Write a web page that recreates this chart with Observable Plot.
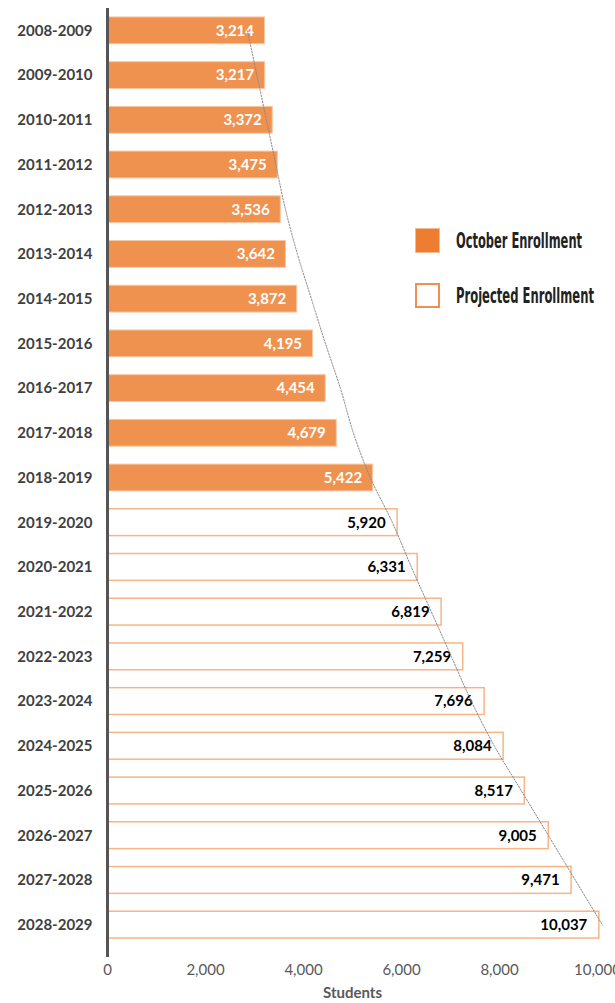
<!DOCTYPE html>
<html><head><meta charset="utf-8">
<script src="https://cdn.jsdelivr.net/npm/d3@7"></script>
<script src="https://cdn.jsdelivr.net/npm/@observablehq/plot@0.6"></script>
<style>
body{margin:0;background:#fff;}
#wrap{position:relative;width:615px;height:1003px;overflow:hidden;}
.lg{position:absolute;left:415px;height:26px;display:flex;align-items:center;}
.sw{width:25px;height:25px;box-sizing:border-box;flex:none;}
.lt{margin-left:16px;font-family:"Liberation Sans Narrow","DejaVu Sans Condensed",sans-serif;font-weight:bold;font-size:22px;color:#222;transform-origin:left center;white-space:nowrap;display:inline-block;}
</style></head><body>
<div id="wrap"><div id="chart"></div>
<div class="lg" style="top:227px"><div class="sw" style="background:#ED7D31;border:1px solid #F6B88E"></div><div class="lt" data-w="126">October Enrollment</div></div>
<div class="lg" style="top:282px"><div class="sw" style="background:#fff;border:2px solid #F0904F"></div><div class="lt" data-w="138">Projected Enrollment</div></div>
</div>
<script>
const periods = ["2008-2009","2009-2010","2010-2011","2011-2012","2012-2013","2013-2014","2014-2015","2015-2016","2016-2017","2017-2018","2018-2019","2019-2020","2020-2021","2021-2022","2022-2023","2023-2024","2024-2025","2025-2026","2026-2027","2027-2028","2028-2029"];
const enrollment = [3214,3217,3372,3475,3536,3642,3872,4195,4454,4679,5422,5920,6331,6819,7259,7696,8084,8517,9005,9471,10037];
const kinds = ["October","October","October","October","October","October","October","October","October","October","October","Projected","Projected","Projected","Projected","Projected","Projected","Projected","Projected","Projected","Projected"];
const trend = [2857,3051,3245,3437,3633,3878,4163,4449,4755,5020,5367,5816,6204,6612,7020,7429,7898,8449,9000,9551,10102];
const xTicks = [0,2000,4000,6000,8000,10000];

const data = periods.map((p,i)=>({period:p, value:enrollment[i], kind:kinds[i], trend:trend[i]}));
const hist = data.filter(d=>d.kind==="October");
const proj = data.filter(d=>d.kind==="Projected");

const chart = Plot.plot({
  width:615, height:1003,
  marginTop:8, marginBottom:46, marginLeft:107, marginRight:18,
  style:{fontFamily:"Lato, 'Open Sans', sans-serif", fontSize:"15px", background:"white", overflow:"visible"},
  x:{domain:[0,10000], ticks:xTicks, tickFormat:d3.format(",")},
  y:{domain:periods, paddingInner:0.4, paddingOuter:0.2, insetBottom:10, round:false},
  marks:[
    Plot.barX(hist,{x:"value", y:"period", fill:"#F0924F", stroke:"#F8C7A3", strokeWidth:1}),
    Plot.barX(proj,{x:"value", y:"period", fill:"white", stroke:"#F7B487", strokeWidth:1.5}),
    Plot.text(hist,{x:"value", y:"period", text:d=>d3.format(",")(d.value), textAnchor:"end", dx:-11, fill:"white", fontWeight:"bold", fontSize:15}),
    Plot.text(proj,{x:"value", y:"period", text:d=>d3.format(",")(d.value), textAnchor:"end", dx:-12, fill:"black", fontWeight:"bold", fontSize:15}),
    Plot.line(data,{x:"trend", y:"period", stroke:"#8a8a8a", strokeWidth:1, strokeDasharray:"1.5,1.5", curve:"catmull-rom"}),
    Plot.ruleX([0],{stroke:"#555", strokeWidth:3}),
    Plot.axisY({tickSize:0, tickPadding:15, fontWeight:"bold", fill:"#404040", label:null, fontSize:15}),
    Plot.axisX({tickSize:0, tickPadding:7, fill:"#595959", label:null, fontSize:15}),
    Plot.text(["Students"],{frameAnchor:"bottom", dy:40, fontWeight:"bold", fill:"#595959", fontSize:15})
  ]
});
document.getElementById("chart").appendChild(chart);
document.querySelectorAll(".lt").forEach(el=>{
  const w = el.getBoundingClientRect().width;
  const target = +el.dataset.w;
  el.style.transform = `scaleX(${target / w})`;
});
</script>
</body></html>
